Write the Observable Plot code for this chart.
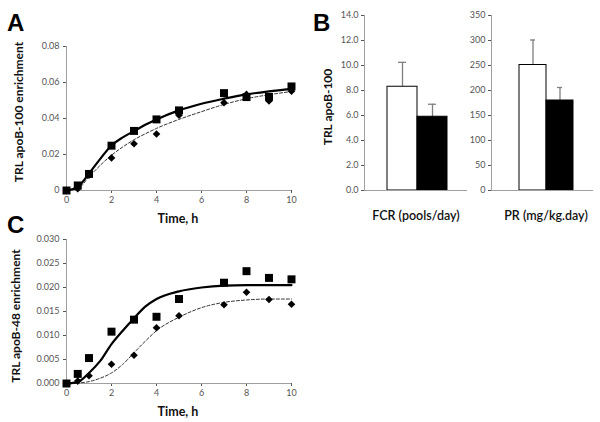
<!DOCTYPE html>
<html>
<head>
<meta charset="utf-8">
<script src="https://cdn.jsdelivr.net/npm/d3@7"></script>
<script src="https://cdn.jsdelivr.net/npm/@observablehq/plot@0.6"></script>
<style>
  html, body { margin: 0; padding: 0; background: #fff; }
  #fig { position: relative; width: 600px; height: 422px; overflow: hidden; font-family: Lato, "Open Sans", sans-serif; }
  #fig svg { position: absolute; }
  .t { position: absolute; white-space: nowrap; color: #111; }
  .letter { font-family: "Liberation Sans", Arial, sans-serif; font-weight: bold; font-size: 24px; line-height: 24px; color: #000; }
  .ytitle { font-weight: bold; font-size: 12px; transform: translate(-50%, -50%) rotate(-90deg); }
  .xtitle { font-weight: bold; font-size: 12.5px; transform: translate(-50%, -50%); }
  .cat { font-size: 12.5px; transform: translate(-50%, -50%); font-weight: 600; }
</style>
</head>
<body>
<div id="fig"></div>
<script>
// ---------- data ----------
const hours = [0, 0.5, 1, 2, 3, 4, 5, 7, 8, 9, 10];
const apoB100Square  = [0, 0.0028, 0.0092, 0.0249, 0.0331, 0.0395, 0.0445, 0.0541, 0.0519, 0.0520, 0.0578];
const apoB100Diamond = [0, 0.0010, 0.0085, 0.0181, 0.0260, 0.0314, 0.0418, 0.0488, 0.0534, 0.0497, 0.0551];
const apoB48Square   = [0, 0.0020, 0.0053, 0.0108, 0.0133, 0.0139, 0.0176, 0.0210, 0.0234, 0.0220, 0.0217];
const apoB48Diamond  = [0, 0.0005, 0.0016, 0.0040, 0.0059, 0.0116, 0.0141, 0.0164, 0.0190, 0.0175, 0.0165];

const fitHours        = [0, 0.5, 1, 1.5, 2, 2.5, 3, 3.5, 4, 5, 6, 7, 8, 9, 10];
const apoB100FitSolid  = [0, 0.0020, 0.0094, 0.0176, 0.0250, 0.0295, 0.0330, 0.0365, 0.0395, 0.0445, 0.0482, 0.0510, 0.0534, 0.0551, 0.0565];
const apoB100FitDashed = [0, 0.0010, 0.0076, 0.0140, 0.0196, 0.0242, 0.0282, 0.0315, 0.0345, 0.0395, 0.0438, 0.0478, 0.0510, 0.0532, 0.0550];
const apoB48FitSolid   = [0, 0.0003, 0.0022, 0.0047, 0.0082, 0.0110, 0.0136, 0.0160, 0.0176, 0.0192, 0.0200, 0.0204, 0.0205, 0.0205, 0.0205];
const apoB48FitDashed  = [0, 0.0001, 0.0004, 0.0011, 0.0022, 0.0040, 0.0064, 0.0088, 0.0110, 0.0138, 0.0158, 0.0169, 0.0174, 0.0176, 0.0176];

const groups = ["open", "filled"];
const fcrMean = [8.3, 5.9];
const fcrErr  = [1.95, 1.0];
const prMean  = [251, 180];
const prErr   = [50, 26];

const timeTicks = [0, 2, 4, 6, 8, 10];
const yTicksA = [0, 0.02, 0.04, 0.06, 0.08];
const yTicksC = [0, 0.005, 0.010, 0.015, 0.020, 0.025, 0.030];
const yTicksFCR = [0, 2, 4, 6, 8, 10, 12, 14];
const yTicksPR = [0, 50, 100, 150, 200, 250, 300, 350];

// ---------- helpers ----------
const squareSym = {draw(ctx, size) { const s = Math.sqrt(size) / 2; ctx.moveTo(-s, -s); ctx.lineTo(s, -s); ctx.lineTo(s, s); ctx.lineTo(-s, s); ctx.closePath(); }};
const diamondSym = {draw(ctx, size) { const r = Math.sqrt(size / Math.PI); ctx.moveTo(0, -r); ctx.lineTo(r, 0); ctx.lineTo(0, r); ctx.lineTo(-r, 0); ctx.closePath(); }};
const axisGray = "#a0a0a0";
const baseStyle = {fontFamily: "Lato, 'Open Sans', sans-serif", fontSize: "9px", color: "#555", background: "transparent", overflow: "visible"};
const fig = document.getElementById("fig");

function place(svg, left, top) { svg.style.left = left + "px"; svg.style.top = top + "px"; fig.appendChild(svg); }
function text(cls, str, x, y) { const d = document.createElement("div"); d.className = "t " + cls; d.textContent = str; d.style.left = x + "px"; d.style.top = y + "px"; fig.appendChild(d); }

function timeChart(obsSq, obsDi, fitSolid, fitDashed, yDomain, yTicks, fmt, height, mt, mb) {
  const obs = hours.map((h, i) => ({h, sq: obsSq[i], di: obsDi[i]}));
  const fit = fitHours.map((h, i) => ({h, s: fitSolid[i], d: fitDashed[i]}));
  return Plot.plot({
    width: 300, height, marginLeft: 66, marginRight: 9, marginTop: mt, marginBottom: mb,
    style: baseStyle,
    x: {domain: [0, 10], ticks: timeTicks, tickSize: 3, tickPadding: 3, label: null},
    y: {domain: yDomain, ticks: yTicks, tickFormat: fmt, tickSize: 3, tickPadding: 4, label: null},
    marks: [
      Plot.ruleX([0], {stroke: axisGray}),
      Plot.ruleY([yDomain[0]], {stroke: axisGray}),
      Plot.line(fit, {x: "h", y: "d", curve: "monotone-x", stroke: "#333", strokeWidth: 1, strokeDasharray: "3,2"}),
      Plot.line(fit, {x: "h", y: "s", curve: "monotone-x", stroke: "#000", strokeWidth: 2.2}),
      Plot.dot(obs, {x: "h", y: "di", symbol: diamondSym, r: 3.8, fill: "#000", stroke: "none"}),
      Plot.dot(obs, {x: "h", y: "sq", symbol: squareSym, r: 4.5, fill: "#000", stroke: "none"})
    ]
  });
}

// ---------- Panel A ----------
place(timeChart(apoB100Square, apoB100Diamond, apoB100FitSolid, apoB100FitDashed, [0, 0.08], yTicksA,
  d => d === 0 ? "0" : d.toFixed(2), 210, 46, 20), 0, 0);
// ---------- Panel C ----------
place(timeChart(apoB48Square, apoB48Diamond, apoB48FitSolid, apoB48FitDashed, [0, 0.03], yTicksC,
  d => d.toFixed(3), 200, 39, 17), 0, 200);

// ---------- Panel B ----------
function barChart(means, errs, yDomain, yTicks, fmt, width, ml, mr, range) {
  const rows = groups.map((g, i) => ({g, m: means[i], top: means[i] + errs[i]}));
  return Plot.plot({
    width, height: 200, marginLeft: ml, marginRight: mr, marginTop: 15, marginBottom: 10,
    style: baseStyle,
    x: {domain: groups, range, padding: 0, axis: null},
    y: {domain: yDomain, ticks: yTicks, tickFormat: fmt, tickSize: 3, tickPadding: 3, label: null},
    marks: [
      Plot.ruleX(rows, {x: "g", y1: "m", y2: "top", stroke: "#7f7f7f", strokeWidth: 1.3}),
      Plot.tickY(rows, {x: "g", y: "top", stroke: "#7f7f7f", strokeWidth: 1.3, insetLeft: 11, insetRight: 11}),
      Plot.barY(rows, {x: "g", y: "m", fill: d => d.g === "open" ? "#fff" : "#000", stroke: "#000", strokeWidth: 1}),
      Plot.frame({anchor: "left", stroke: axisGray}),
      Plot.ruleY([0], {stroke: axisGray})
    ]
  });
}
place(barChart(fcrMean, fcrErr, [0, 14], yTicksFCR, d => d.toFixed(1), 170, 64, 3, [87, 147]), 300, 0);
place(barChart(prMean, prErr, [0, 350], yTicksPR, d => String(d), 130, 21, 7, [48, 103]), 470, 0);

// ---------- titles ----------
text("letter", "A", 7, 11);
text("letter", "B", 313, 11);
text("letter", "C", 7, 213);
text("ytitle", "TRL apoB-100  enrichment", 18, 112);
text("ytitle", "TRL apoB-48 enrichment", 15, 316);
text("ytitle", "TRL apoB-100", 327, 107);
text("xtitle", "Time, h", 178, 218);
text("xtitle", "Time, h", 178, 411);
text("cat", "FCR (pools/day)", 416, 215);
text("cat", "PR (mg/kg.day)", 546, 215);
</script>
</body>
</html>
